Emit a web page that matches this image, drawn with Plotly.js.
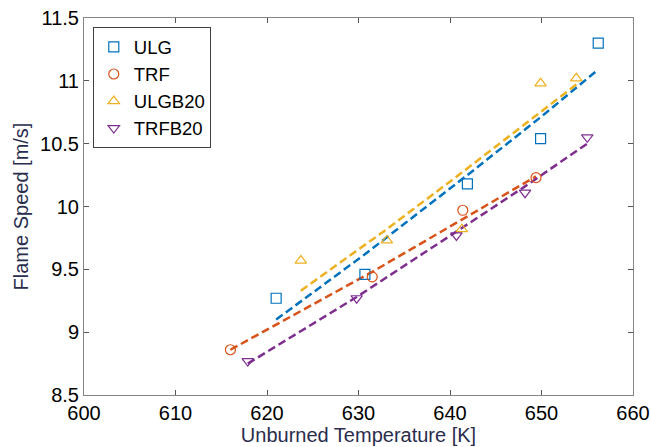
<!DOCTYPE html>
<html>
<head>
<meta charset="utf-8">
<script src="https://cdn.plot.ly/plotly-3.0.1.min.js"></script>
<style>html,body{margin:0;padding:0;background:#fff;}#chart{width:651px;height:447px;}</style>
</head>
<body>
<div id="chart"></div>
<script>
// Data
const seriesNames = ['ULG', 'TRF', 'ULGB20', 'TRFB20'];

const ulgT = [621.0, 630.7, 641.9, 649.9, 656.2];
const ulgS = [9.27, 9.46, 10.18, 10.54, 11.30];
const ulgFit = [9.10, 9.62, 10.25, 10.71, 11.09];

const trfT = [616.0, 631.5, 641.4, 649.4];
const trfS = [8.86, 9.44, 9.97, 10.23];
const trfFit = [8.86, 9.48, 9.90, 10.24];

const ulgb20T = [623.7, 633.1, 641.3, 649.9, 653.8];
const ulgb20S = [9.57, 9.73, 9.82, 10.98, 11.02];
const ulgb20Fit = [9.33, 9.82, 10.27, 10.75, 10.97];

const trfb20T = [617.9, 629.8, 640.7, 648.2, 655.0];
const trfb20S = [8.77, 9.27, 9.77, 10.11, 10.55];
const trfb20Fit = [8.75, 9.28, 9.80, 10.16, 10.50];

const xTicks = [600, 610, 620, 630, 640, 650, 660];
const yTicks = [8.5, 9, 9.5, 10, 10.5, 11, 11.5];
const yTickText = ['8.5', '9', '9.5', '10', '10.5', '11', '11.5'];

const colors = ['#0072BD', '#D95319', '#EDB120', '#7E2F8E'];
const symbols = ['square-open', 'circle-open', 'triangle-up-open', 'triangle-down-open'];

const xs = [ulgT, trfT, ulgb20T, trfb20T];
const ys = [ulgS, trfS, ulgb20S, trfb20S];
const fits = [ulgFit, trfFit, ulgb20Fit, trfb20Fit];

const traces = [];
for (let i = 0; i < 4; i++) {
  traces.push({
    x: xs[i], y: fits[i], mode: 'lines', type: 'scatter', showlegend: false,
    line: {color: colors[i], width: 2.5, dash: '8px,4px'}, hoverinfo: 'skip'
  });
}
for (let i = 0; i < 4; i++) {
  traces.push({
    x: xs[i], y: ys[i], mode: 'markers', type: 'scatter', name: seriesNames[i],
    marker: {symbol: symbols[i], size: 10, color: colors[i], line: {color: colors[i], width: 1.2}}
  });
}

const axisCommon = {
  showline: true, linecolor: '#858585', linewidth: 1, mirror: 'ticks',
  ticks: 'inside', ticklen: 5, tickcolor: '#555', showgrid: false, zeroline: false,
  tickfont: {family: 'Liberation Sans, Arial, sans-serif', size: 20, color: '#000'}
};

const layout = {
  width: 651, height: 447,
  margin: {l: 84, r: 18, t: 18, b: 52},
  paper_bgcolor: '#fff', plot_bgcolor: '#fff',
  font: {family: 'Liberation Sans, Arial, sans-serif'},
  xaxis: Object.assign({}, axisCommon, {
    range: [600, 660], tickvals: xTicks, ticktext: xTicks.map(String),
    title: {text: 'Unburned Temperature [K]', font: {size: 20, color: '#2a2d4d'}, standoff: 4}
  }),
  yaxis: Object.assign({}, axisCommon, {
    range: [8.5, 11.5], tickvals: yTicks, ticktext: yTickText,
    title: {text: 'Flame Speed [m/s]', font: {size: 20, color: '#2a2d4d'}, standoff: 6}
  }),
  legend: {
    x: 0.016, y: 0.975, xanchor: 'left', yanchor: 'top',
    bgcolor: '#fff', bordercolor: '#404040', borderwidth: 1,
    font: {size: 18.5, color: '#000'}, itemwidth: 30, tracegroupgap: 0
  },
  showlegend: true
};

Plotly.newPlot('chart', traces, layout, {displayModeBar: false, staticPlot: true});
</script>
</body>
</html>
